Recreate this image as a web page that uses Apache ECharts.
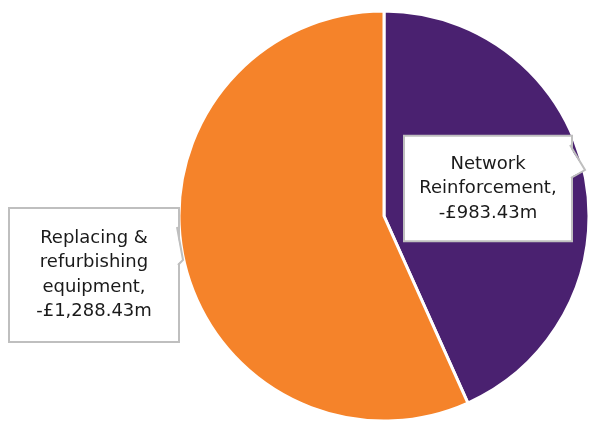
<!DOCTYPE html>
<html><head><meta charset="utf-8">
<script src="https://cdn.jsdelivr.net/npm/echarts@6/dist/echarts.min.js"></script>
<style>html,body{margin:0;padding:0;background:#fff}#c{width:589px;height:421px}</style>
</head><body><div id="c"></div>
<script>
var categories = ['Network Reinforcement', 'Replacing & refurbishing equipment'];
var values = [983.43, 1288.43];
var colors = ['#4a2170', '#f5832a'];

function fmt(v) {
  return v.toLocaleString('en-GB', {minimumFractionDigits: 2, maximumFractionDigits: 2});
}
function wrap(s, max) {
  var words = s.split(' '), lines = [], cur = '';
  words.forEach(function (w) {
    if (cur && (cur + ' ' + w).length > max) { lines.push(cur); cur = w; }
    else { cur = cur ? cur + ' ' + w : w; }
  });
  if (cur) lines.push(cur);
  return lines.join('\n');
}

var labelBoxes = [
  {x: 488, y: 188.5, w: 150, pad: [17, 8, 13, 8]},
  {x: 94, y: 275, w: 152, pad: [21, 8, 13, 8]}
];

var data = categories.map(function (n, i) {
  return {
    name: n, value: values[i],
    itemStyle: {color: colors[i]},
    label: {width: labelBoxes[i].w, padding: labelBoxes[i].pad}
  };
});

var chart = echarts.init(document.getElementById('c'));
chart.setOption({
  animation: false,
  series: [{
    type: 'pie',
    center: [384, 216],
    radius: 205,
    startAngle: 90,
    clockwise: true,
    itemStyle: {borderColor: '#fff', borderWidth: 3},
    labelLine: {show: false},
    label: {
      show: true,
      position: 'outside',
      formatter: function (p) { return wrap(p.name + ',', 14) + '\n-£' + fmt(p.value) + 'm'; },
      fontFamily: 'DejaVu Sans',
      fontSize: 18,
      lineHeight: 24.5,
      color: '#1a1a1a',
      align: 'center',
      backgroundColor: '#fff',
      borderColor: '#bfbfbf',
      borderWidth: 2
    },
    labelLayout: function (p) {
      var b = labelBoxes[p.dataIndex];
      return {x: b.x, y: b.y, align: 'center', verticalAlign: 'middle'};
    },
    data: data
  }],
  graphic: [
    {type: 'polygon', z: 100, shape: {points: [[569, 146], [585, 170], [569, 178]]}, style: {fill: '#fff'}},
    {type: 'polyline', z: 101, shape: {points: [[570, 145], [585, 170], [571, 178]]}, style: {stroke: '#bfbfbf', lineWidth: 2, fill: null}},
    {type: 'polygon', z: 100, shape: {points: [[176, 228], [183, 260], [176, 265]]}, style: {fill: '#fff'}},
    {type: 'polyline', z: 101, shape: {points: [[177, 227], [183, 260], [178, 265]]}, style: {stroke: '#bfbfbf', lineWidth: 2, fill: null}}
  ]
});
</script></body></html>
